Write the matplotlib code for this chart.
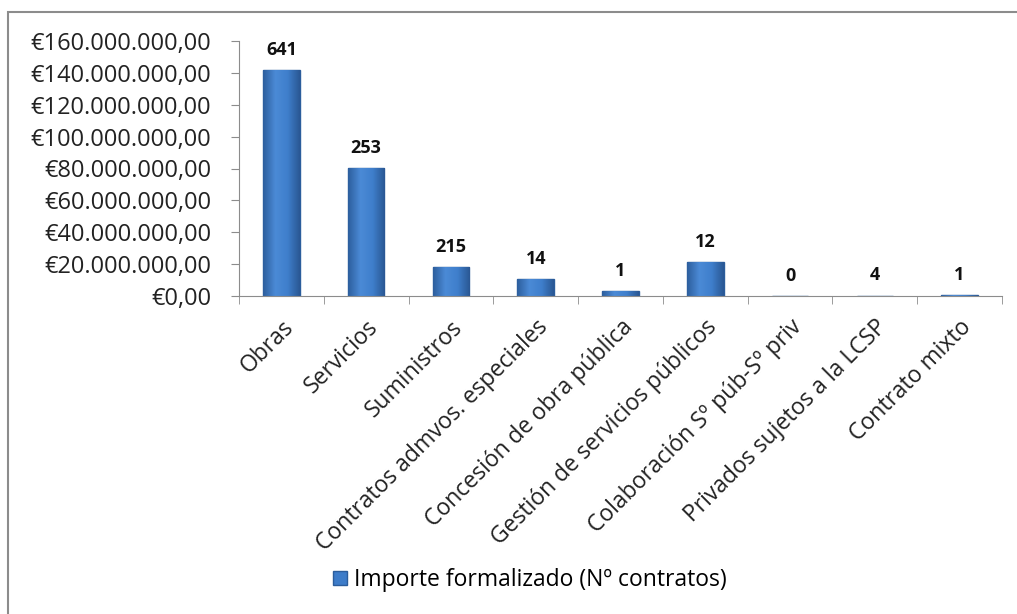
import numpy as np
import matplotlib.pyplot as plt
from matplotlib.patches import Rectangle
from matplotlib.colors import LinearSegmentedColormap
from matplotlib.ticker import FuncFormatter, FixedLocator

plt.rcParams['font.family'] = ['Open Sans', 'DejaVu Sans']

# Data
categorias = ['Obras', 'Servicios', 'Suministros', 'Contratos admvos. especiales',
              'Concesión de obra pública', 'Gestión de servicios públicos',
              'Colaboración Sº púb-Sº priv', 'Privados sujetos a la LCSP', 'Contrato mixto']
importe = [141.5e6, 80.2e6, 18.4e6, 10.7e6, 2.9e6, 21.1e6, 0.0, 0.3e6, 0.8e6]
n_contratos = [641, 253, 215, 14, 1, 12, 0, 4, 1]
yticks = np.arange(0, 160e6 + 1, 20e6)


def euro(v, pos=None):
    s = '{:,.2f}'.format(v)
    s = s.replace(',', 'X').replace('.', ',').replace('X', '.')
    return '€' + s


fig = plt.figure(figsize=(10.17, 6.14), dpi=100)
fig.patches.append(Rectangle((8 / 1017, -0.1), 1.2, 1 - 12 / 614 + 0.1,
                             transform=fig.transFigure, fill=False,
                             edgecolor='#8c8c8c', linewidth=1.5))

ax = fig.add_axes([239 / 1017, 1 - 296 / 614, (1002 - 239) / 1017, (296 - 41) / 614])
x = np.arange(len(categorias))
bars = ax.bar(x, importe, width=0.43, color='#3d7cc9', edgecolor='#2b5d9c',
              linewidth=1.0, label='Importe formalizado (Nº contratos)')

# cylinder-like shading inside each bar
cmap = LinearSegmentedColormap.from_list('barra', ['#2d5f9e', '#4b8ad6', '#3f7fcc', '#2a5894'])
grad = np.linspace(0, 1, 64).reshape(1, -1)
for b in bars:
    if b.get_height() <= 0:
        continue
    im = ax.imshow(grad, cmap=cmap, aspect='auto', zorder=b.get_zorder() + 0.1,
                   extent=(b.get_x(), b.get_x() + b.get_width(), 0, b.get_height()))
    im.set_clip_path(b)
ax.set_xlim(-0.5, len(categorias) - 0.5)
ax.set_ylim(0, 160e6)

for xi, v, n in zip(x, importe, n_contratos):
    ax.annotate(str(n), (xi, v), xytext=(0, 8), textcoords='offset points',
                ha='center', va='bottom', fontsize=13, fontweight='bold', color='#111111')

ax.yaxis.set_major_locator(FixedLocator(yticks))
ax.yaxis.set_major_formatter(FuncFormatter(euro))
ax.tick_params(axis='y', labelsize=17, length=6, pad=14, color='#8c8c8c', labelcolor='#222222')

ax.set_xticks(x)
ax.set_xticklabels(categorias, rotation=45, ha='right', va='top', rotation_mode='anchor',
                   fontsize=16.5, color='#222222')
ax.tick_params(axis='x', length=0, pad=14)
ax.set_xticks(np.arange(-0.5, len(categorias)), minor=True)
ax.tick_params(axis='x', which='minor', length=6, color='#8c8c8c')

for s in ['top', 'right']:
    ax.spines[s].set_visible(False)
for s in ['left', 'bottom']:
    ax.spines[s].set_color('#8c8c8c')

fig.legend(handles=[bars], labels=['Importe formalizado (Nº contratos)'],
           loc='center', bbox_to_anchor=(530 / 1017, 1 - 580 / 614), frameon=False,
           fontsize=16.5, handlelength=0.6, handleheight=0.6, handletextpad=0.3)

fig.savefig('out.png', dpi=100)
